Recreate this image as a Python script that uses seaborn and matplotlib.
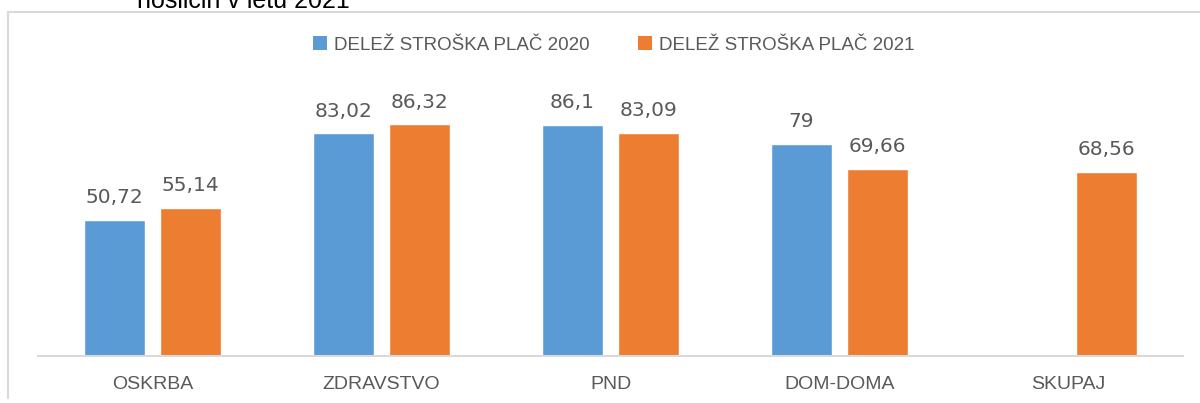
import numpy as np
import pandas as pd
import seaborn as sns
import matplotlib.pyplot as plt
from matplotlib.lines import Line2D
from matplotlib.patches import Patch

# data
categories = ['OSKRBA', 'ZDRAVSTVO', 'PND', 'DOM-DOMA', 'SKUPAJ']
share_2020 = [50.72, 83.02, 86.1, 79, np.nan]
share_2021 = [55.14, 86.32, 83.09, 69.66, 68.56]
series = ['DELEŽ STROŠKA PLAČ 2020', 'DELEŽ STROŠKA PLAČ 2021']
colors = ['#5B9BD5', '#ED7D31']
title_tail = 'nosilcih v letu 2021'

df = pd.DataFrame({
    'kategorija': categories * 2,
    'serija': [series[0]] * len(categories) + [series[1]] * len(categories),
    'delez': share_2020 + share_2021,
})

sns.set_style('white')
plt.rcParams['font.family'] = ['Liberation Sans', 'DejaVu Sans']

fig = plt.figure(figsize=(12, 4.03), dpi=100)
ax = fig.add_axes([38 / 1200, 47.5 / 403, 1145 / 1200, 268 / 403])

sns.barplot(data=df, x='kategorija', y='delez', hue='serija', order=categories,
            hue_order=series, palette=colors, width=0.664, gap=0.21,
            errorbar=None, saturation=1, legend=False, ax=ax)

# data labels with decimal comma
def fmt(v):
    if np.isnan(v):
        return ''
    return f'{v:g}'.replace('.', ',')

for cont in ax.containers:
    ax.bar_label(cont, fmt=fmt, padding=9, fontsize=14.5, color='#595959',
                 family='DejaVu Sans')

ax.set_xlim(-0.5, 4.5)
ax.set_ylim(0, 100)
ax.set_xlabel('')
ax.set_ylabel('')
ax.set_yticks([])
for s in ['top', 'right', 'left']:
    ax.spines[s].set_visible(False)
ax.spines['bottom'].set_color('#D9D9D9')
ax.spines['bottom'].set_linewidth(1.5)
ax.tick_params(axis='x', length=0, pad=14.5, labelsize=14, labelcolor='#595959')

# legend at the top
handles = [Patch(facecolor=c, edgecolor='none') for c in colors]
fig.legend(handles, series, loc='center', bbox_to_anchor=(614 / 1200, 1 - 45 / 403),
           ncol=2, frameon=False, fontsize=13.5, labelcolor='#595959',
           handlelength=0.7, handleheight=0.7, handletextpad=0.4,
           columnspacing=2.6)

# chart-area border (left and top only visible)
fig.add_artist(Line2D([8 / 1200, 8 / 1200], [5 / 403, 1 - 12 / 403],
                      color='#D9D9D9', lw=1.5, transform=fig.transFigure))
fig.add_artist(Line2D([8 / 1200, 1.0], [1 - 12 / 403, 1 - 12 / 403],
                      color='#D9D9D9', lw=1.5, transform=fig.transFigure))

# title is cut off by the top edge, as in the reference
fig.text(137 / 1200, 1 - 8 / 403, title_tail, fontsize=18, color='black',
         ha='left', va='baseline')

plt.savefig('out.png', dpi=100)
